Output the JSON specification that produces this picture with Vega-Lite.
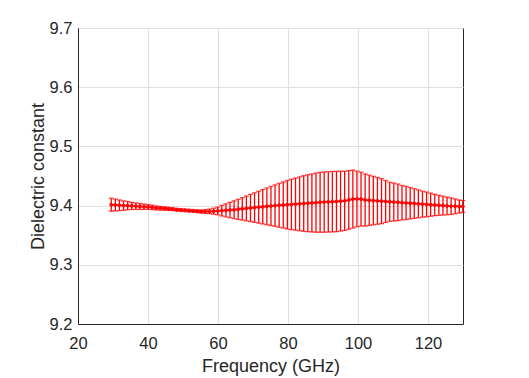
{
  "$schema": "https://vega.github.io/schema/vega-lite/v6.json",
  "width": 385,
  "height": 296,
  "autosize": {"type": "none"},
  "padding": {"left": 78, "top": 28, "right": 66, "bottom": 54},
  "background": "white",
  "config": {
    "view": {"stroke": "#262626", "strokeWidth": 1},
    "font": "Liberation Sans",
    "axis": {
      "domainColor": "#262626",
      "ticks": false,
      "gridColor": "#dfdfdf",
      "labelColor": "#262626",
      "labelFont": "Liberation Sans",
      "labelFontSize": 16.5,
      "titleFont": "Liberation Sans",
      "titleFontSize": 18,
      "titleFontWeight": "normal",
      "titleColor": "#262626"
    }
  },
  "data": {"values": [
    {"f": 29.50, "m": 9.4015, "lo": 9.3905, "hi": 9.4125},
    {"f": 30.67, "m": 9.401, "lo": 9.391, "hi": 9.411},
    {"f": 31.84, "m": 9.4005, "lo": 9.3915, "hi": 9.4095},
    {"f": 33.01, "m": 9.400, "lo": 9.392, "hi": 9.408},
    {"f": 34.18, "m": 9.400, "lo": 9.393, "hi": 9.407},
    {"f": 35.35, "m": 9.3995, "lo": 9.3935, "hi": 9.4055},
    {"f": 36.52, "m": 9.399, "lo": 9.3935, "hi": 9.4045},
    {"f": 37.69, "m": 9.3985, "lo": 9.3935, "hi": 9.4035},
    {"f": 38.86, "m": 9.398, "lo": 9.3935, "hi": 9.4025},
    {"f": 40.03, "m": 9.3977, "lo": 9.3937, "hi": 9.4017},
    {"f": 41.20, "m": 9.397, "lo": 9.3933, "hi": 9.4007},
    {"f": 42.37, "m": 9.396, "lo": 9.3926, "hi": 9.3994},
    {"f": 43.54, "m": 9.3955, "lo": 9.3924, "hi": 9.3986},
    {"f": 44.71, "m": 9.395, "lo": 9.3922, "hi": 9.3978},
    {"f": 45.88, "m": 9.3945, "lo": 9.392, "hi": 9.397},
    {"f": 47.05, "m": 9.394, "lo": 9.3917, "hi": 9.3963},
    {"f": 48.22, "m": 9.393, "lo": 9.3909, "hi": 9.3951},
    {"f": 49.39, "m": 9.3925, "lo": 9.3905, "hi": 9.3945},
    {"f": 50.56, "m": 9.392, "lo": 9.390, "hi": 9.394},
    {"f": 51.73, "m": 9.3915, "lo": 9.3895, "hi": 9.3935},
    {"f": 52.90, "m": 9.391, "lo": 9.389, "hi": 9.393},
    {"f": 54.07, "m": 9.3905, "lo": 9.3883, "hi": 9.3927},
    {"f": 55.24, "m": 9.390, "lo": 9.3874, "hi": 9.3926},
    {"f": 56.41, "m": 9.390, "lo": 9.387, "hi": 9.393},
    {"f": 57.58, "m": 9.3902, "lo": 9.3864, "hi": 9.394},
    {"f": 58.75, "m": 9.3905, "lo": 9.3855, "hi": 9.3955},
    {"f": 59.92, "m": 9.391, "lo": 9.3845, "hi": 9.3975},
    {"f": 61.09, "m": 9.3915, "lo": 9.3825, "hi": 9.4005},
    {"f": 62.26, "m": 9.392, "lo": 9.381, "hi": 9.403},
    {"f": 63.43, "m": 9.3925, "lo": 9.3795, "hi": 9.4055},
    {"f": 64.60, "m": 9.393, "lo": 9.378, "hi": 9.408},
    {"f": 65.77, "m": 9.3937, "lo": 9.3767, "hi": 9.4107},
    {"f": 66.94, "m": 9.3945, "lo": 9.3755, "hi": 9.4135},
    {"f": 68.11, "m": 9.3952, "lo": 9.3742, "hi": 9.4162},
    {"f": 69.28, "m": 9.396, "lo": 9.373, "hi": 9.419},
    {"f": 70.45, "m": 9.3967, "lo": 9.3717, "hi": 9.4217},
    {"f": 71.62, "m": 9.3974, "lo": 9.3704, "hi": 9.4244},
    {"f": 72.79, "m": 9.398, "lo": 9.369, "hi": 9.427},
    {"f": 73.96, "m": 9.3987, "lo": 9.3677, "hi": 9.4297},
    {"f": 75.13, "m": 9.3993, "lo": 9.3663, "hi": 9.4323},
    {"f": 76.30, "m": 9.400, "lo": 9.365, "hi": 9.435},
    {"f": 77.47, "m": 9.4005, "lo": 9.3635, "hi": 9.4375},
    {"f": 78.64, "m": 9.401, "lo": 9.362, "hi": 9.440},
    {"f": 79.81, "m": 9.4015, "lo": 9.3605, "hi": 9.4425},
    {"f": 80.98, "m": 9.402, "lo": 9.3595, "hi": 9.4445},
    {"f": 82.15, "m": 9.4025, "lo": 9.3585, "hi": 9.4465},
    {"f": 83.32, "m": 9.403, "lo": 9.3575, "hi": 9.4485},
    {"f": 84.49, "m": 9.4035, "lo": 9.3565, "hi": 9.4505},
    {"f": 85.66, "m": 9.404, "lo": 9.356, "hi": 9.452},
    {"f": 86.83, "m": 9.4045, "lo": 9.3555, "hi": 9.4535},
    {"f": 88.00, "m": 9.405, "lo": 9.355, "hi": 9.455},
    {"f": 89.17, "m": 9.4055, "lo": 9.355, "hi": 9.456},
    {"f": 90.34, "m": 9.406, "lo": 9.355, "hi": 9.457},
    {"f": 91.51, "m": 9.4063, "lo": 9.3553, "hi": 9.4573},
    {"f": 92.68, "m": 9.4066, "lo": 9.3556, "hi": 9.4576},
    {"f": 93.85, "m": 9.407, "lo": 9.356, "hi": 9.458},
    {"f": 95.02, "m": 9.4075, "lo": 9.357, "hi": 9.458},
    {"f": 96.19, "m": 9.408, "lo": 9.358, "hi": 9.458},
    {"f": 97.36, "m": 9.4095, "lo": 9.360, "hi": 9.459},
    {"f": 98.53, "m": 9.411, "lo": 9.362, "hi": 9.460},
    {"f": 99.70, "m": 9.4112, "lo": 9.3642, "hi": 9.4582},
    {"f": 100.87, "m": 9.411, "lo": 9.3655, "hi": 9.4565},
    {"f": 102.04, "m": 9.4095, "lo": 9.3655, "hi": 9.4535},
    {"f": 103.21, "m": 9.409, "lo": 9.3665, "hi": 9.4515},
    {"f": 104.38, "m": 9.4085, "lo": 9.3675, "hi": 9.4495},
    {"f": 105.55, "m": 9.408, "lo": 9.3685, "hi": 9.4475},
    {"f": 106.72, "m": 9.4075, "lo": 9.3695, "hi": 9.4455},
    {"f": 107.89, "m": 9.407, "lo": 9.3715, "hi": 9.4425},
    {"f": 109.06, "m": 9.4065, "lo": 9.3735, "hi": 9.4395},
    {"f": 110.23, "m": 9.406, "lo": 9.374, "hi": 9.438},
    {"f": 111.40, "m": 9.4055, "lo": 9.3745, "hi": 9.4365},
    {"f": 112.57, "m": 9.405, "lo": 9.376, "hi": 9.434},
    {"f": 113.74, "m": 9.4045, "lo": 9.3765, "hi": 9.4325},
    {"f": 114.91, "m": 9.404, "lo": 9.3775, "hi": 9.4305},
    {"f": 116.08, "m": 9.4035, "lo": 9.3785, "hi": 9.4285},
    {"f": 117.25, "m": 9.403, "lo": 9.3795, "hi": 9.4265},
    {"f": 118.42, "m": 9.4025, "lo": 9.3805, "hi": 9.4245},
    {"f": 119.59, "m": 9.402, "lo": 9.381, "hi": 9.423},
    {"f": 120.76, "m": 9.4015, "lo": 9.382, "hi": 9.421},
    {"f": 121.93, "m": 9.401, "lo": 9.383, "hi": 9.419},
    {"f": 123.10, "m": 9.4005, "lo": 9.3835, "hi": 9.4175},
    {"f": 124.27, "m": 9.400, "lo": 9.384, "hi": 9.416},
    {"f": 125.44, "m": 9.3995, "lo": 9.3845, "hi": 9.4145},
    {"f": 126.61, "m": 9.399, "lo": 9.385, "hi": 9.413},
    {"f": 127.78, "m": 9.3988, "lo": 9.3863, "hi": 9.4113},
    {"f": 128.95, "m": 9.3985, "lo": 9.3875, "hi": 9.4095},
    {"f": 129.95, "m": 9.3985, "lo": 9.3885, "hi": 9.4085}
  ]},
  "encoding": {
    "x": {
      "field": "f",
      "type": "quantitative",
      "title": "Frequency (GHz)",
      "scale": {"domain": [20, 130], "nice": false, "zero": false},
      "axis": {"values": [20, 40, 60, 80, 100, 120], "grid": true, "labelPadding": 11, "titlePadding": 6, "labelFlush": false}
    }
  },
  "layer": [
    {
      "mark": {"type": "rule", "color": "#ff0000", "strokeWidth": 1.3},
      "encoding": {
        "y": {
          "field": "lo",
          "type": "quantitative",
          "title": "Dielectric constant",
          "scale": {"domain": [9.2, 9.7], "nice": false, "zero": false},
          "axis": {"values": [9.2, 9.3, 9.4, 9.5, 9.6, 9.7], "format": ".1f", "grid": true, "labelPadding": 6, "titlePadding": 2, "labelFlush": false}
        },
        "y2": {"field": "hi"}
      }
    },
    {
      "mark": {"type": "tick", "color": "#ff0000", "orient": "horizontal", "size": 5, "thickness": 1.3},
      "encoding": {"y": {"field": "lo", "type": "quantitative", "title": "Dielectric constant"}}
    },
    {
      "mark": {"type": "tick", "color": "#ff0000", "orient": "horizontal", "size": 5, "thickness": 1.3},
      "encoding": {"y": {"field": "hi", "type": "quantitative", "title": "Dielectric constant"}}
    },
    {
      "mark": {"type": "line", "color": "#ff0000", "strokeWidth": 1.5},
      "encoding": {"y": {"field": "m", "type": "quantitative", "title": "Dielectric constant"}}
    },
    {
      "mark": {"type": "point", "shape": "cross", "color": "#ff0000", "filled": false, "size": 10, "strokeWidth": 1, "opacity": 1},
      "encoding": {"y": {"field": "m", "type": "quantitative", "title": "Dielectric constant"}}
    }
  ]
}
